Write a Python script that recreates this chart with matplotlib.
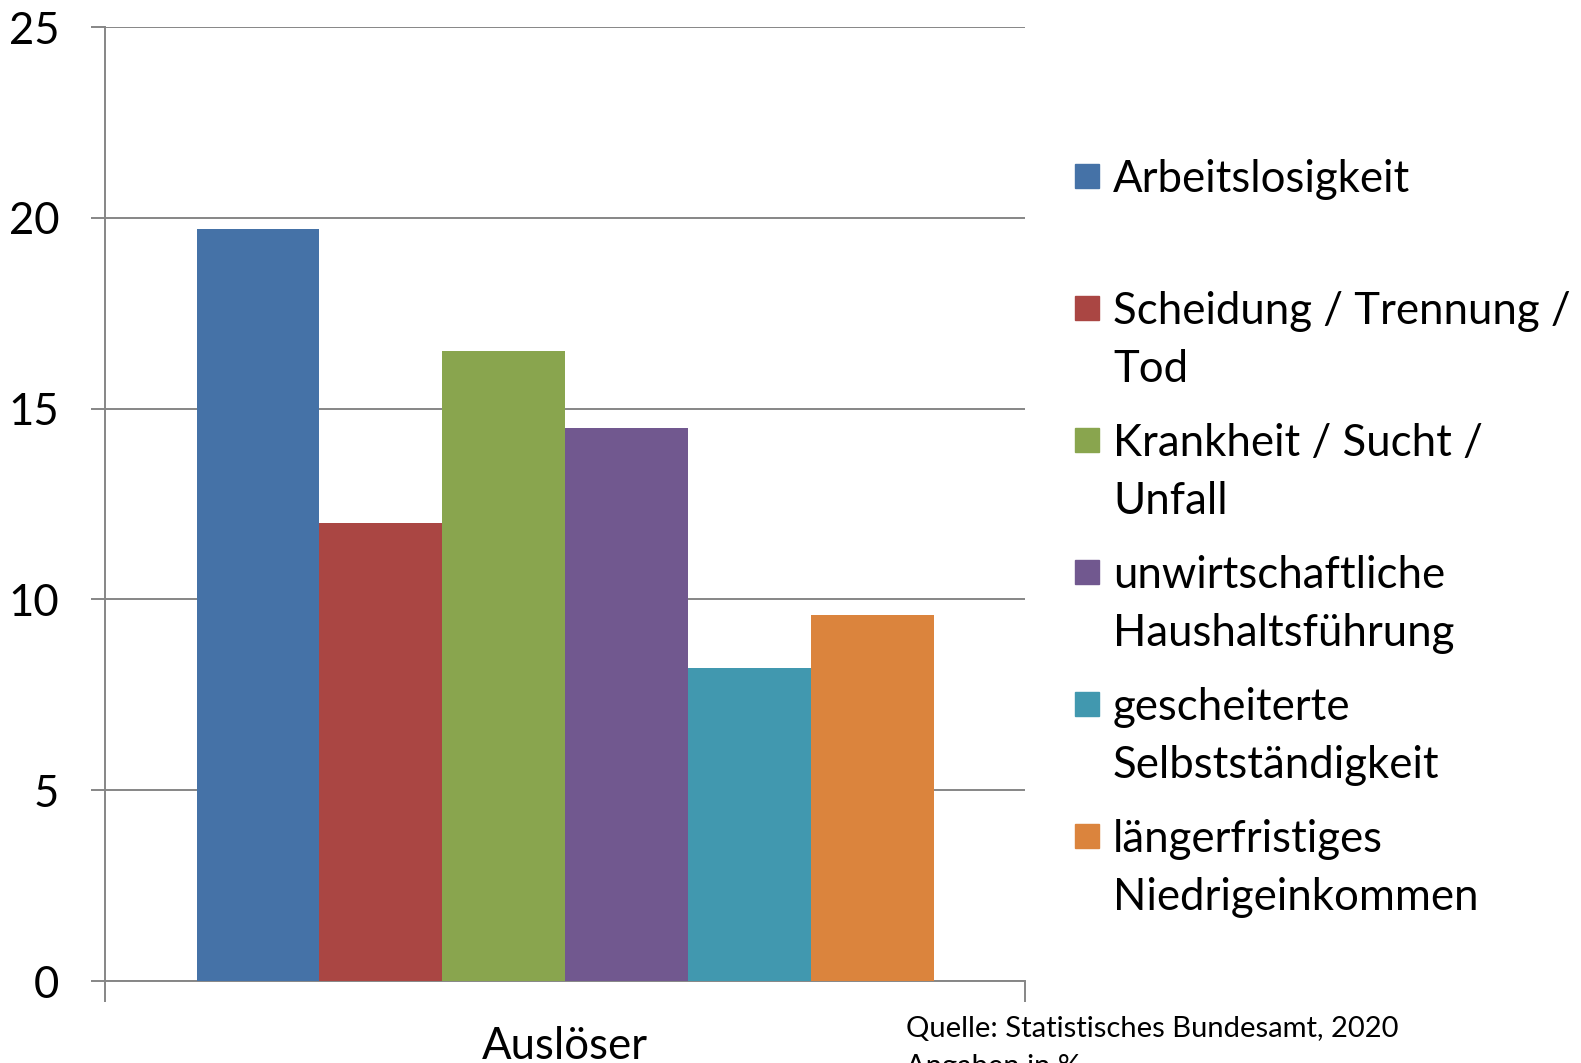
import matplotlib.pyplot as plt
from matplotlib.patches import Rectangle

# Daten (Angaben in %)
kategorien = [
    "Arbeitslosigkeit",
    "Scheidung / Trennung /\nTod",
    "Krankheit / Sucht /\nUnfall",
    "unwirtschaftliche\nHaushaltsführung",
    "gescheiterte\nSelbstständigkeit",
    "längerfristiges\nNiedrigeinkommen",
]
werte = [19.7, 12.0, 16.5, 14.5, 8.2, 9.6]
farben = ["#4572A7", "#AA4643", "#89A54E", "#71588F", "#4198AF", "#DB843D"]
y_ticks = [0, 5, 10, 15, 20, 25]

plt.rcParams["font.family"] = ["Lato", "DejaVu Sans"]
grau = "#868686"
fs = 31.5

W, H = 1581, 1063
fig = plt.figure(figsize=(W / 100, H / 100), dpi=100)
ax = fig.add_axes([105 / W, 1 - 981 / H, (1024.5 - 105) / W, (981 - 27.2) / H])

x = list(range(len(werte)))
ax.bar(x, werte, width=1.0, color=farben, zorder=3)

ax.set_xlim(-1.245, 6.24)
ax.set_ylim(0, 25)
ax.set_yticks(y_ticks)
ax.set_yticklabels([str(t) for t in y_ticks], fontsize=fs)
ax.set_xticks([-1.245, 6.24])
ax.set_xticklabels(["", ""])
ax.tick_params(axis="y", length=10, width=1.4, color=grau, pad=23)
ax.tick_params(axis="x", length=15, width=1.4, color=grau)
ax.yaxis.grid(True, color=grau, linewidth=1.4, zorder=0)

for s in ["top", "right"]:
    ax.spines[s].set_visible(False)
for s in ["left", "bottom"]:
    ax.spines[s].set_color(grau)
    ax.spines[s].set_linewidth(1.4)

ax.set_xlabel("Auslöser", fontsize=fs, labelpad=14)

# Legende im Excel-Stil (manuell platziert)
zeilen_y = [175.5, 307.6, 439.6, 571.8, 704, 836]
zeilenabstand = 58.5
for label, farbe, yp in zip(kategorien, farben, zeilen_y):
    fig.patches.append(Rectangle((1075 / W, 1 - (yp + 12) / H), 24 / W, 24 / H,
                                 transform=fig.transFigure, color=farbe))
    for k, zeile in enumerate(label.split("\n")):
        fig.text(1113 / W, 1 - (yp + 16 + k * zeilenabstand) / H, zeile,
                 fontsize=fs, va="baseline", ha="left")

fig.text(906 / W, 1 - 1037 / H, "Quelle: Statistisches Bundesamt, 2020",
         fontsize=21, va="baseline", ha="left")
fig.text(906 / W, 1 - 1075 / H, "Angaben in %",
         fontsize=21, va="baseline", ha="left")

fig.savefig("out.png", dpi=100)
